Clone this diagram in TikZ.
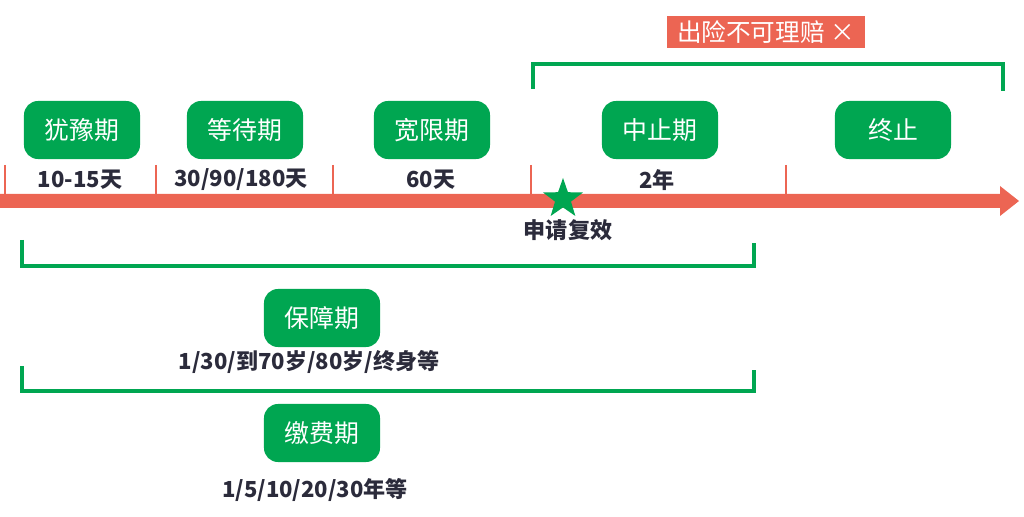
\documentclass[tikz,border=0pt]{standalone}
\usepackage{fontspec}
\setmainfont{Noto Sans CJK SC}
\usetikzlibrary{shapes.geometric}
\definecolor{boxgreen}{HTML}{00A651}
\definecolor{linered}{HTML}{EC6553}
\definecolor{textdark}{HTML}{2B2B3B}
\begin{document}
\begin{tikzpicture}[x=0.025cm, y=-0.025cm,
        phase/.style={fill=boxgreen, text=white, rounded corners=0.35cm, minimum width=2.9cm, minimum height=1.45cm, font=\fontsize{17.7}{17.7}\selectfont},
        span/.style={text=textdark, font=\fontsize{15.7}{15.7}\selectfont\bfseries},
        tick/.style={draw=linered, line width=1.2pt},
        bracket/.style={draw=boxgreen, line width=3.4pt}]
        \useasboundingbox (0,0) rectangle (1024,517);
        % time axis
        \fill[linered] (0,194) -- (1000,194) -- (1000,186) -- (1019,201) -- (1000,216) -- (1000,208) -- (0,208) -- cycle;
        \draw[tick] (5,165) -- (5,194);
        \draw[tick] (156,165) -- (156,194);
        \draw[tick] (333,165) -- (333,194);
        \draw[tick] (531,165) -- (531,194);
        \draw[tick] (786,165) -- (786,194);
        % phases on the axis
        \node[phase] (hesitate) at (82,130) {犹豫期};
        \node[phase] (waiting) at (245,130) {等待期};
        \node[phase] (grace) at (432,130) {宽限期};
        \node[phase] (suspend) at (660,130) {中止期};
        \node[phase] (terminate) at (893,130) {终止};
        \node[span] (hesitatelen) at (80,180) {10-15天};
        \node[span] (waitinglen) at (241,180) {30/90/180天};
        \node[span] (gracelen) at (431,180) {60天};
        \node[span] (suspendlen) at (657,180) {2年};
        % reinstatement
        \node[star, star points=5, star point ratio=2.5, fill=boxgreen, minimum size=1.05cm, inner sep=0pt] (revive) at (563,199) {};
        \node[span] (revivelabel) at (568,230) {申请复效};
        % no claims
        \draw[bracket] (533,89) -- (533,64) -- (1003,64) -- (1003,91);
        \node[fill=linered, text=white, minimum width=4.95cm, minimum height=0.8cm, inner sep=0pt, font=\fontsize{17.5}{17.5}\selectfont] (noclaim) at (766,32) {出险不可理赔 ×};
        % coverage and payment
        \draw[bracket] (22,240) -- (22,266) -- (754,266) -- (754,243);
        \node[phase] (cover) at (322,318) {保障期};
        \node[span] (coverlen) at (309,362) {1/30/到70岁/80岁/终身等};
        \draw[bracket] (22,366) -- (22,391) -- (754,391) -- (754,370);
        \node[phase] (pay) at (322,433) {缴费期};
        \node[span] (paylen) at (315,490) {1/5/10/20/30年等};
\end{tikzpicture}
\end{document}
